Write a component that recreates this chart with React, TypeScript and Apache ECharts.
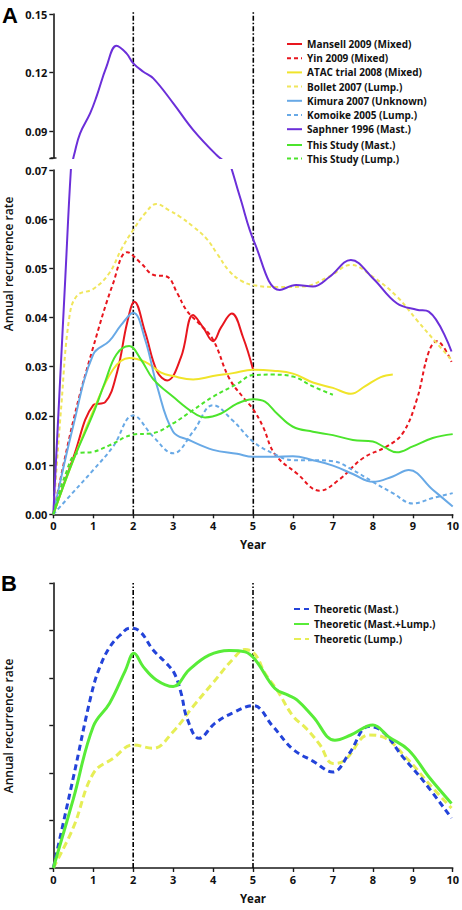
import React, { useEffect, useRef } from "react";
import * as echarts from "echarts";

// ---------- Data (year, value) ----------
const yearTicks = [0, 1, 2, 3, 4, 5, 6, 7, 8, 9, 10];
const upperTicks = [0.09, 0.12, 0.15];
const lowerTicks = [0, 0.01, 0.02, 0.03, 0.04, 0.05, 0.06, 0.07];
const landmarkYears = [2, 5];

const mansell2009 = [
  [0, 0], [0.5, 0.0115], [1, 0.0222], [1.3, 0.0228], [1.6, 0.029], [1.85, 0.039], [2.03, 0.0432],
  [2.3, 0.037], [2.6, 0.029], [2.85, 0.0272], [3.2, 0.032], [3.5, 0.0405], [3.75, 0.038],
  [4.0, 0.0352], [4.2, 0.038], [4.47, 0.0408], [4.75, 0.036], [5, 0.0295],
];
const yin2009 = [
  [0, 0], [0.5, 0.019], [1, 0.034], [1.5, 0.047], [1.85, 0.0533], [2.2, 0.051], [2.5, 0.0487],
  [2.85, 0.0483], [3.1, 0.045], [3.35, 0.0413], [3.65, 0.0388], [4, 0.0355], [4.4, 0.0277],
  [4.75, 0.0238], [5, 0.0214], [5.25, 0.0178], [5.55, 0.0122], [6.1, 0.0083], [6.67, 0.0048],
  [7.15, 0.007], [7.75, 0.0114], [8.35, 0.0138], [8.75, 0.0165], [9.1, 0.0233], [9.4, 0.033],
  [9.6, 0.0352], [9.97, 0.031],
];
const atac2008 = [
  [0, 0], [0.5, 0.011], [1, 0.021], [1.5, 0.0295], [1.9, 0.0318], [2.3, 0.031], [2.7, 0.0288],
  [3, 0.0281], [3.5, 0.0274], [4, 0.0281], [4.5, 0.0287], [5, 0.0294], [5.5, 0.0292],
  [6, 0.0286], [6.5, 0.0268], [7, 0.0257], [7.45, 0.0245], [7.8, 0.026], [8.2, 0.0279], [8.5, 0.0284],
];
const bollet2007 = [
  [0, 0], [0.2, 0.022], [0.4, 0.04], [0.6, 0.0445], [1, 0.0458], [1.4, 0.049], [1.71, 0.054],
  [2, 0.0578], [2.3, 0.0612], [2.58, 0.0631], [2.9, 0.0618], [3.17, 0.0605], [3.5, 0.0585],
  [3.83, 0.0561], [4.1, 0.053], [4.4, 0.0495], [4.7, 0.0475], [5, 0.0466], [5.6, 0.0462],
  [6.25, 0.0463], [6.9, 0.0483], [7.45, 0.0507], [8, 0.0483], [8.6, 0.0443], [9.1, 0.0395],
  [9.6, 0.0348], [9.97, 0.0314],
];
const kimura2007 = [
  [0, 0], [0.5, 0.018], [1, 0.0325], [1.4, 0.0352], [1.7, 0.0385], [2, 0.041], [2.3, 0.0355],
  [2.6, 0.026], [3, 0.0168], [3.4, 0.0151], [4, 0.0131], [4.6, 0.0123], [5, 0.0117],
  [5.5, 0.0117], [6, 0.0118], [6.5, 0.011], [7, 0.0099], [7.5, 0.0082], [8, 0.0066],
  [8.5, 0.0077], [8.9, 0.009], [9.5, 0.005], [10, 0.0016],
];
const komoike2005 = [
  [0, 0], [0.5, 0.0045], [1, 0.009], [1.5, 0.0138], [2, 0.0201], [2.5, 0.0158], [3, 0.0124],
  [3.5, 0.0168], [4, 0.0222], [4.5, 0.019], [5, 0.0148], [5.5, 0.0124], [6, 0.011],
  [6.5, 0.011], [7, 0.0108], [7.5, 0.009], [8, 0.0066], [8.5, 0.0043], [9, 0.0022],
  [9.5, 0.0033], [10, 0.0043],
];
const saphner1996 = [
  [0, 0], [0.15, 0.024], [0.3, 0.048], [0.44, 0.07], [0.54, 0.0794], [0.67, 0.0888],
  [0.92, 0.099], [1.08, 0.1076], [1.33, 0.123], [1.58, 0.1337], [1.83, 0.1298], [2, 0.1247],
  [2.25, 0.1204], [2.5, 0.117], [3, 0.1042], [3.5, 0.0905], [4.08, 0.0777], [4.35, 0.073],
  [4.67, 0.0646], [5.04, 0.0552], [5.67, 0.0456], [6.08, 0.0466], [6.5, 0.0463],
  [6.92, 0.0483], [7.45, 0.0517], [8, 0.048], [8.6, 0.0429], [9.1, 0.0416], [9.4, 0.0412],
  [9.97, 0.0331],
];
const thisStudyMast = [
  [0, 0], [0.5, 0.011], [1, 0.0205], [1.3, 0.027], [1.58, 0.0325], [1.9, 0.0342], [2.2, 0.0314],
  [2.5, 0.0275], [3, 0.0239], [3.5, 0.0207], [3.8, 0.0197], [4.2, 0.0205], [4.6, 0.0225],
  [5, 0.0234], [5.3, 0.0229], [5.6, 0.0205], [6, 0.0178], [6.5, 0.0168], [7, 0.0161],
  [7.5, 0.0151], [8, 0.0148], [8.3, 0.0136], [8.6, 0.0126], [9, 0.0138], [9.5, 0.0155], [10, 0.0163],
];
const thisStudyLump = [
  [0, 0], [0.3, 0.008], [0.6, 0.0124], [1, 0.0127], [1.4, 0.014], [2, 0.0162], [2.5, 0.0165],
  [3, 0.0185], [3.5, 0.0212], [4, 0.0239], [4.6, 0.0265], [5, 0.0283], [5.5, 0.0284],
  [6, 0.028], [6.5, 0.026], [7, 0.0243],
];

// Panel B (arbitrary units, 0..6)
const theoMast = [
  [0, 0], [0.5, 1.9], [0.96, 3.68], [1.17, 4.24], [1.42, 4.66], [1.67, 4.9], [1.92, 5.05],
  [2.17, 4.98], [2.5, 4.59], [2.83, 4.31], [3.03, 4.1], [3.2, 3.68], [3.35, 3.15], [3.65, 2.73],
  [4.05, 3.05], [4.48, 3.26], [5, 3.42], [5.5, 2.98], [6, 2.5], [6.5, 2.25], [7, 2.02],
  [7.4, 2.4], [7.9, 2.98], [8.25, 2.87], [8.75, 2.34], [9.25, 1.85], [9.97, 1.05],
];
const theoMastLump = [
  [0, 0], [0.5, 1.45], [1, 2.98], [1.41, 3.47], [1.8, 4.15], [2.02, 4.52], [2.25, 4.24],
  [2.58, 3.96], [3.0, 3.82], [3.4, 4.17], [3.9, 4.48], [4.4, 4.58], [4.8, 4.55], [5.06, 4.38],
  [5.55, 3.78], [5.88, 3.64], [6.1, 3.54], [6.5, 3.19], [7.05, 2.69], [7.45, 2.8], [8, 3.01],
  [8.4, 2.76], [8.9, 2.48], [9.4, 1.92], [9.97, 1.36],
];
const theoLump = [
  [0, 0], [0.5, 0.85], [1, 1.99], [1.5, 2.31], [2, 2.59], [2.5, 2.52], [3, 2.87], [3.5, 3.4],
  [4, 3.9], [4.5, 4.4], [4.8, 4.6], [5.05, 4.5], [5.3, 4.1], [5.6, 3.75], [6, 3.2],
  [6.33, 2.94], [6.67, 2.6], [7, 2.2], [7.3, 2.27], [7.9, 2.8], [8.25, 2.76], [8.85, 2.31],
  [9.4, 1.78], [9.97, 1.26],
];

const FONT = "'Open Sans', 'Liberation Sans', sans-serif";
const AXIS_COLOR = "#1a1a1a";

const namesA1 = [
  "Mansell 2009 (Mixed)",
  "Yin 2009 (Mixed)",
  "ATAC trial 2008 (Mixed)",
  "Bollet 2007 (Lump.)",
  "Kimura 2007 (Unknown)",
  "Komoike 2005 (Lump.)",
  "Saphner 1996 (Mast.)",
];
const namesA2 = ["This Study (Mast.)", "This Study (Lump.)"];
const namesB = ["Theoretic (Mast.)", "Theoretic (Mast.+Lump.)", "Theoretic (Lump.)"];

function lineSeries(
  name: string,
  data: number[][],
  color: string,
  dash: number[] | "solid",
  xi: number,
  yi: number,
  width = 2
) {
  return {
    type: "line",
    name,
    data,
    xAxisIndex: xi,
    yAxisIndex: yi,
    smooth: 0.4,
    symbol: "none",
    clip: true,
    silent: true,
    lineStyle: { color, width, type: dash },
    itemStyle: { color },
    z: 3,
  };
}

function vline(year: number, xi: number, yi: number, top: number) {
  return {
    type: "line",
    data: [
      [year, 0],
      [year, top],
    ],
    xAxisIndex: xi,
    yAxisIndex: yi,
    symbol: "none",
    silent: true,
    lineStyle: { color: "#000", width: 1.6, type: [5, 2, 1.5, 2] },
    z: 2,
  };
}

const tickLabel = { fontFamily: FONT, fontSize: 11, fontWeight: "bold", color: "#111" };
const legendText = { fontFamily: FONT, fontSize: 10, fontWeight: "bold", color: "#111", lineHeight: 12 };
const legendCommon = {
  orient: "vertical",
  itemWidth: 15,
  itemHeight: 10,
  padding: 0,
  selectedMode: false,
  textStyle: legendText,
  itemStyle: { opacity: 0, borderWidth: 0 },
};

function xAxisVisible(gridIndex: number) {
  return {
    type: "value",
    gridIndex,
    min: 0,
    max: 10,
    interval: 1,
    axisLine: { show: true, onZero: false, lineStyle: { color: AXIS_COLOR, width: 1.6 } },
    axisTick: { show: true, length: 4, customValues: yearTicks, lineStyle: { color: AXIS_COLOR, width: 1.4 } },
    axisLabel: { ...tickLabel, margin: 6, customValues: yearTicks, formatter: (v: number) => String(v) },
    splitLine: { show: false },
    name: "Year",
    nameLocation: "middle",
    nameGap: 24,
    nameTextStyle: { fontFamily: FONT, fontSize: 11.5, fontWeight: "bold", color: "#111" },
  };
}
function hiddenX(gridIndex: number) {
  return { type: "value", gridIndex, min: 0, max: 10, show: false, splitLine: { show: false } };
}

export default function App() {
  const ref = useRef<HTMLDivElement>(null);
  useEffect(() => {
    document.body.style.margin = "0";
    const chart = echarts.init(ref.current!, null, { renderer: "svg" });
    const upperMin = 0.15 - 144 / 1950;
    const option: any = {
      animation: false,
      backgroundColor: "#fff",
      grid: [
        { left: 53.3, top: 14, width: 400, height: 144 },
        { left: 53.3, top: 170, width: 400, height: 344.3 },
        { left: 53.3, top: 12, width: 400, height: 502.3 },
        { left: 53.3, top: 583, width: 400, height: 285 },
      ],
      xAxis: [hiddenX(0), xAxisVisible(1), hiddenX(2), xAxisVisible(3)],
      yAxis: [
        {
          type: "value",
          gridIndex: 0,
          min: upperMin,
          max: 0.15,
          axisLine: { show: true, onZero: false, lineStyle: { color: AXIS_COLOR, width: 1.6 } },
          axisTick: {
            show: true,
            length: 4,
            customValues: [upperMin, ...upperTicks],
            lineStyle: { color: AXIS_COLOR, width: 1.4 },
          },
          axisLabel: {
            ...tickLabel,
            margin: 6,
            customValues: upperTicks,
            formatter: (v: number) => v.toFixed(2),
          },
          splitLine: { show: false },
        },
        {
          type: "value",
          gridIndex: 1,
          min: 0,
          max: 0.07,
          interval: 0.01,
          axisLine: { show: true, onZero: false, lineStyle: { color: AXIS_COLOR, width: 1.6 } },
          axisTick: { show: true, length: 4, customValues: lowerTicks, lineStyle: { color: AXIS_COLOR, width: 1.4 } },
          axisLabel: { ...tickLabel, margin: 6, customValues: lowerTicks, formatter: (v: number) => v.toFixed(2) },
          splitLine: { show: false },
        },
        { type: "value", gridIndex: 2, min: 0, max: 1, show: false, splitLine: { show: false } },
        {
          type: "value",
          gridIndex: 3,
          min: 0,
          max: 6,
          interval: 1,
          axisLine: { show: true, onZero: false, lineStyle: { color: AXIS_COLOR, width: 1.6 } },
          axisTick: { show: true, length: 4, lineStyle: { color: AXIS_COLOR, width: 1.4 } },
          axisLabel: { show: false },
          splitLine: { show: false },
        },
      ],
      legend: [
        { ...legendCommon, data: namesA1, left: 286, top: 38, itemGap: 2.2 },
        { ...legendCommon, data: namesA2, left: 286, top: 139, itemGap: 1.5 },
        { ...legendCommon, data: namesB, left: 293, top: 603, itemGap: 3 },
      ],
      graphic: [
        { type: "text", x: 2, y: 15, style: { text: "A", fontFamily: "'Liberation Sans', sans-serif", fontSize: 22, fontWeight: "bold", fill: "#000", verticalAlign: "middle" } },
        { type: "text", x: 1, y: 583, style: { text: "B", fontFamily: "'Liberation Sans', sans-serif", fontSize: 22, fontWeight: "bold", fill: "#000", verticalAlign: "middle" } },
        {
          type: "text",
          x: 8.5,
          y: 264,
          rotation: Math.PI / 2,
          style: { text: "Annual recurrence rate", fontFamily: FONT, fontSize: 12, fontWeight: 600, fill: "#111", align: "center", verticalAlign: "middle" },
        },
        {
          type: "text",
          x: 8.5,
          y: 726,
          rotation: Math.PI / 2,
          style: { text: "Annual recurrence rate", fontFamily: FONT, fontSize: 12, fontWeight: 600, fill: "#111", align: "center", verticalAlign: "middle" },
        },
        { type: "line", shape: { x1: 50.5, y1: 158, x2: 56.5, y2: 158 }, style: { stroke: AXIS_COLOR, lineWidth: 1.4 } },
      ],
      series: [
        lineSeries(namesA1[0], mansell2009, "#e8161e", "solid", 1, 1),
        lineSeries(namesA1[1], yin2009, "#e8161e", [4, 3], 1, 1),
        lineSeries(namesA1[2], atac2008, "#f0e42a", "solid", 1, 1),
        lineSeries(namesA1[3], bollet2007, "#f0e65c", [4, 3], 1, 1),
        lineSeries(namesA1[4], kimura2007, "#68a9e6", "solid", 1, 1),
        lineSeries(namesA1[5], komoike2005, "#68a9e6", [4, 3], 1, 1),
        lineSeries(namesA1[6], saphner1996, "#6b2fd9", "solid", 1, 1),
        lineSeries(namesA1[6], saphner1996, "#6b2fd9", "solid", 0, 0),
        lineSeries(namesA2[0], thisStudyMast, "#4ce42c", "solid", 1, 1),
        lineSeries(namesA2[1], thisStudyLump, "#4ce42c", [4, 3], 1, 1),
        ...landmarkYears.map((y) => vline(y, 2, 2, 1)),
        ...landmarkYears.map((y) => vline(y, 3, 3, 6)),
        lineSeries(namesB[2], theoLump, "#e6ee56", [7, 4], 3, 3, 3),
        lineSeries(namesB[0], theoMast, "#2343d9", [6, 4], 3, 3, 3),
        lineSeries(namesB[1], theoMastLump, "#58ec38", "solid", 3, 3, 3),
      ],
    };
    chart.setOption(option);
    return () => chart.dispose();
  }, []);
  return <div ref={ref} style={{ width: 462, height: 910 }} />;
}
